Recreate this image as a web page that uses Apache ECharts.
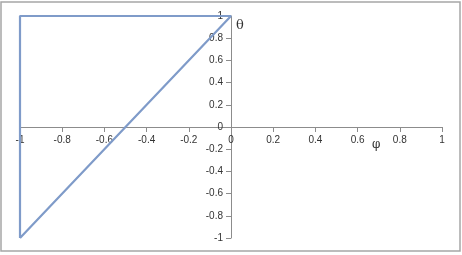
<!DOCTYPE html>
<html><head><meta charset="utf-8">
<script src="https://cdn.jsdelivr.net/npm/echarts@6/dist/echarts.min.js"></script>
<style>html,body{margin:0;padding:0;background:#fff}#c{width:462px;height:255px}</style>
</head><body><div id="c"></div>
<script>
const xValues = [-1, -1, 0, -1];
const yValues = [-1, 1, 1, -1];
const axisMin = -1, axisMax = 1, axisStep = 0.2;
const xName = 'φ', yName = 'θ';

const gridL = 20, gridR = 20, gridT = 16, gridB = 17, W = 462, H = 255;
const gw = W - gridL - gridR, gh = H - gridT - gridB;

const chart = echarts.init(document.getElementById('c'), null, {renderer: 'canvas'});
const fmt = v => { const r = Math.round(v * 10) / 10; return r === 0 ? '0' : String(r); };
const lbl = {fontFamily: 'Liberation Sans', fontSize: 10, color: '#333', margin: 8, formatter: fmt};
chart.setOption({
  animation: false,
  grid: {left: gridL, right: gridR, top: gridT, bottom: gridB},
  xAxis: {type: 'value', min: axisMin, max: axisMax, interval: axisStep,
    position: 'bottom', offset: -gh / 2,
    axisLine: {onZero: false, lineStyle: {color: '#8c8c8c', width: 1}},
    axisTick: {show: true, length: 5, lineStyle: {color: '#8c8c8c'}},
    axisLabel: lbl, splitLine: {show: false}},
  yAxis: {type: 'value', min: axisMin, max: axisMax, interval: axisStep,
    position: 'left', offset: -gw / 2,
    axisLine: {show: true, onZero: false, lineStyle: {color: '#8c8c8c', width: 1}},
    axisTick: {show: true, length: 5, lineStyle: {color: '#8c8c8c'}},
    axisLabel: lbl, splitLine: {show: false}},
  series: [{type: 'line', data: xValues.map((x, i) => [x, yValues[i]]),
    showSymbol: false, lineStyle: {color: '#7f9bc9', width: 2.2}}],
  graphic: [
    {type: 'rect', shape: {x: 1, y: 2, width: 459, height: 249}, style: {fill: 'none', stroke: '#a6a6a6', lineWidth: 1.5}, silent: true},
    {type: 'text', left: 236, top: 19, style: {text: yName, font: '13px "DejaVu Serif"', fill: '#333'}},
    {type: 'text', left: 372, top: 139, style: {text: xName, font: '12px "DejaVu Serif"', fill: '#333'}}
  ]
});
</script></body></html>
